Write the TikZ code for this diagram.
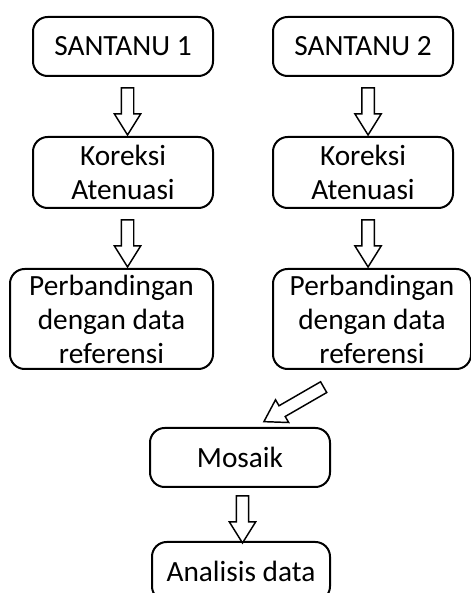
\documentclass[tikz,border=0pt]{standalone}
\usepackage{fontspec}
\setmainfont{Carlito}
\usetikzlibrary{shapes.arrows}

\tikzset{
	kotak/.style={draw, line width=1.5pt, rounded corners=11pt, align=center,
		font=\fontsize{22pt}{25.5pt}\selectfont, inner sep=0pt},
	panah/.style={draw, line width=1.1pt, single arrow, fill=white,
		inner xsep=0pt, inner ysep=4.1pt, minimum width=0pt,
		single arrow head extend=5.2pt, single arrow tip angle=64,
		minimum height=35.25pt, rotate=-90}
}

\begin{document}
\begin{tikzpicture}[x=0.75pt, y=0.75pt]
	\useasboundingbox (0,0) rectangle (471,593);
	
	% data masukan
	\node[kotak, minimum width=135pt, minimum height=44.25pt] (s1) at (123,546.5) {SANTANU 1};
	\node[kotak, minimum width=135pt, minimum height=44.25pt] (s2) at (363,546.5) {SANTANU 2};
	
	\node[kotak, minimum width=135pt, minimum height=53.25pt] (k1) at (123,420.5) {Koreksi\\Atenuasi};
	\node[kotak, minimum width=135pt, minimum height=53.25pt] (k2) at (363,420.5) {Koreksi\\Atenuasi};
	
	\node[kotak, minimum width=152.25pt, minimum height=75pt] (p1) at (111.5,274)
		{Perbandingan\\dengan data\\referensi};
	\node[kotak, minimum width=148.5pt, minimum height=75pt] (p2) at (372,274)
		{Perbandingan\\dengan data\\referensi};
	
	% gabungan
	\node[kotak, minimum width=135pt, minimum height=44.25pt] (m) at (240,135.5) {Mosaik};
	\node[kotak, minimum width=133.5pt, minimum height=44.25pt] (a) at (241,21.5) {Analisis data};
	
	% panah
	\path ([xshift=3.4pt]s1.south) -- node[panah] (a1) {} ([xshift=3.4pt]k1.north);
	\path ([xshift=3.8pt]s2.south) -- node[panah] (a2) {} ([xshift=3.8pt]k2.north);
	\path ([xshift=3.4pt]k1.south) -- node[panah] (a3) {} ([xshift=3.4pt]k1.south |- p1.north);
	\path ([xshift=3.8pt]k2.south) -- node[panah] (a4) {} ([xshift=3.8pt]k2.south |- p2.north);
	\path (p2.south) -- node[panah, pos=0.56, rotate=-60, minimum height=51.75pt] (a5) {} (m.north);
	\path ([xshift=1.5pt]m.south) -- node[panah] (a6) {} ([xshift=1.5pt]a.north);
\end{tikzpicture}
\end{document}
